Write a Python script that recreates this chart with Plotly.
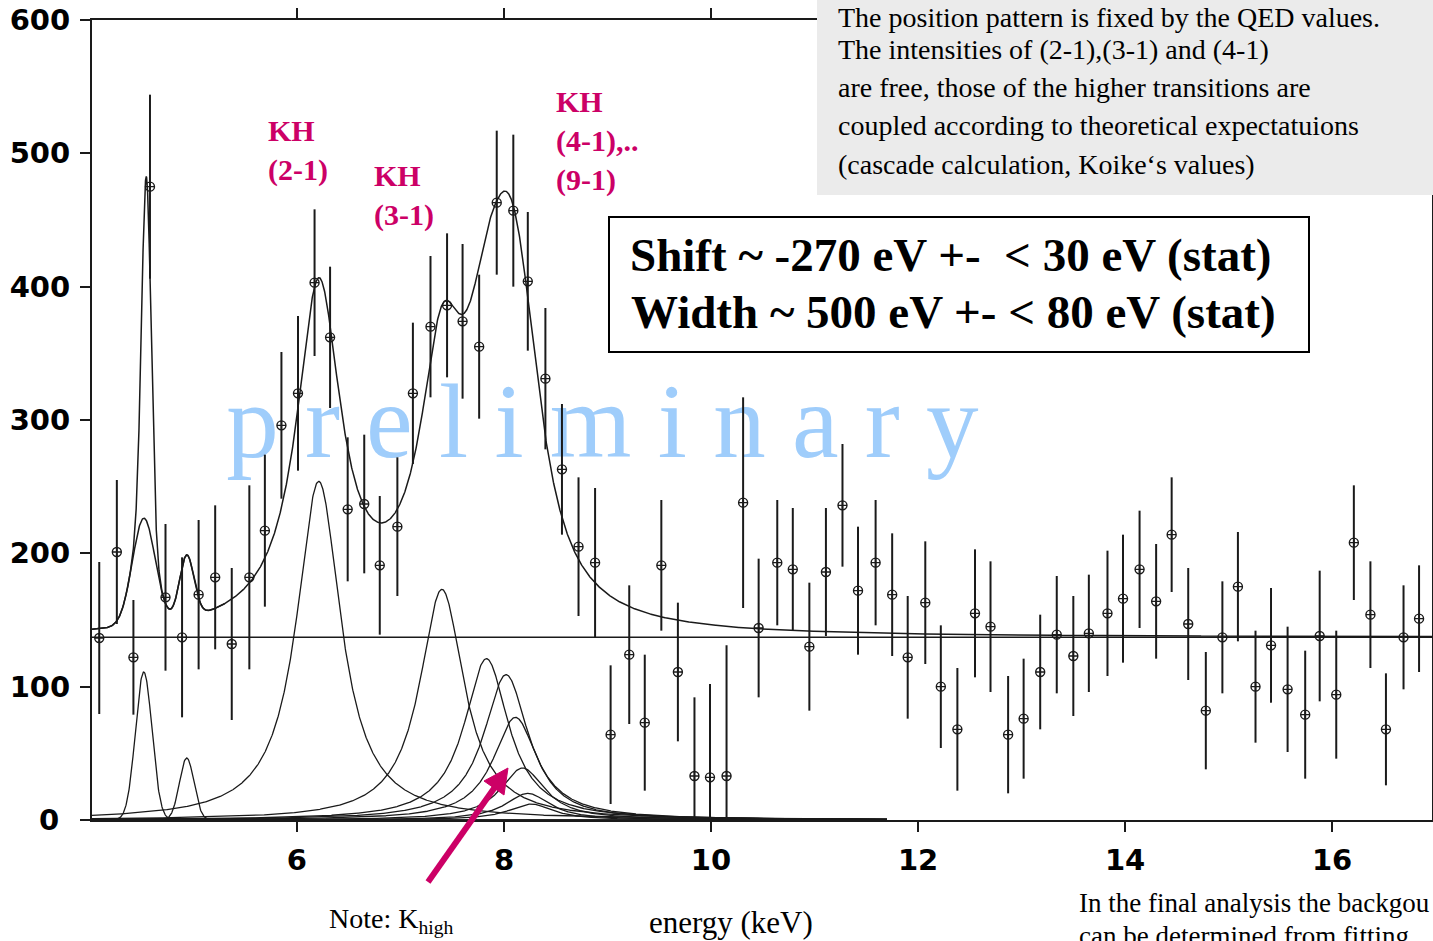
import numpy as np
import plotly.graph_objects as go

# ---------------- data ----------------
energy_kev = [4.09, 4.26, 4.42, 4.58, 4.73, 4.89, 5.05, 5.21, 5.37, 5.54,
              5.69, 5.85, 6.01, 6.17, 6.32, 6.49, 6.65, 6.80, 6.97, 7.12,
              7.29, 7.45, 7.60, 7.76, 7.93, 8.09, 8.23, 8.40, 8.56, 8.72,
              8.88, 9.03, 9.21, 9.36, 9.52, 9.68, 9.84, 9.99, 10.15, 10.31,
              10.46, 10.64, 10.79, 10.95, 11.11, 11.27, 11.42, 11.59, 11.75, 11.90,
              12.07, 12.22, 12.38, 12.55, 12.70, 12.87, 13.02, 13.18, 13.34, 13.50,
              13.65, 13.83, 13.98, 14.14, 14.30, 14.45, 14.61, 14.78, 14.94, 15.09,
              15.26, 15.41, 15.57, 15.74, 15.88, 16.04, 16.21, 16.37, 16.52, 16.69,
              16.84]
counts = [136.5, 201, 122, 475, 167, 137, 169, 182, 132, 182,
          217, 296, 320, 403, 362, 233, 237, 191, 220, 320,
          370, 386, 374, 355, 463, 457, 404, 331, 263, 205,
          193, 64, 124, 73, 191, 111, 33, 32, 33, 238,
          144, 193, 188, 130, 186, 236, 172, 193, 169, 122,
          163, 100, 68, 155, 145, 64, 76, 111, 139, 123,
          140, 155, 166, 188, 164, 214, 147, 82, 137, 175,
          100, 131, 98, 79, 138, 94, 208, 154, 68, 137,
          151]
count_err = [57, 54, 43, 69, 55, 60, 56, 54, 57, 69,
             57, 55, 58, 55, 53, 54, 52, 52, 52, 53,
             53, 54, 58, 54, 54, 57, 52, 53, 49, 52,
             56, 52, 52, 51, 49, 52, 59, 70, 98, 79,
             52, 47, 46, 48, 48, 46, 48, 47, 46, 46,
             46, 46, 46, 48, 49, 44, 45, 43, 44, 45,
             44, 47, 48, 44, 43, 43, 42, 44, 42, 41,
             42, 43, 47, 48, 49, 48, 43, 40, 42, 39,
             40]

# fit model parameters
background = 137.0
kh_lines = ["(2-1)", "(3-1)", "(4-1)", "(5-1)", "(6-1)", "(7-1)", "(8-1)", "(9-1)"]
kh_center = [6.21, 7.40, 7.83, 8.02, 8.11, 8.18, 8.23, 8.26]
kh_height = [254, 173, 121, 109, 77, 39, 20, 12]
kh_hwhm = 0.26
cal_center = [4.52, 4.935]
cal_height = [111, 46.5]
cal_sigma = [0.08, 0.07]
fit_cal_height = [80, 47]
fit_cal_sigma = [0.11, 0.07]
spike_center, spike_height, spike_sigma = 4.545, 258, 0.045

x_ticks = [6, 8, 10, 12, 14, 16]
y_ticks = [0, 100, 200, 300, 400, 500, 600]
y_ticktext = ["0\u2008", "100", "200", "300", "400", "500", "600"]

# ---------------- model curves ----------------
def lorentz(x, c, h, g):
    return h / (1 + ((x - c) / g) ** 2)

def gauss(x, c, h, s):
    return h * np.exp(-0.5 * ((x - c) / s) ** 2)

XMIN, XMAX = 4.02, 16.965
x_comp = np.linspace(XMIN, 11.7, 2000)
x_tot = np.linspace(XMIN, XMAX, 4000)

def total(x):
    y = np.full_like(x, background)
    for c, h in zip(kh_center, kh_height):
        y += lorentz(x, c, h, kh_hwhm)
    for c, h, s in zip(cal_center, fit_cal_height, fit_cal_sigma):
        y += gauss(x, c, h, s)
    return y

INK = "#1a1a1a"
MAG = "#cc0066"
SERIF = "Liberation Serif"

fig = go.Figure()

# watermark (below data)
fig.add_trace(go.Scatter(
    x=[8.95], y=[292], mode="text", text=["p r e l i m i n a r y"],
    textfont=dict(family=SERIF, size=105, color="#9fcdfb"),
    textposition="middle center", hoverinfo="skip", showlegend=False))

# background line
fig.add_trace(go.Scatter(x=[XMIN, XMAX], y=[background, background], mode="lines",
                         line=dict(color=INK, width=1.5), showlegend=False))

# components
for c, h in zip(kh_center, kh_height):
    fig.add_trace(go.Scatter(x=x_comp, y=lorentz(x_comp, c, h, kh_hwhm), mode="lines",
                             line=dict(color=INK, width=1.3), showlegend=False))
for c, h, s in zip(cal_center, cal_height, cal_sigma):
    fig.add_trace(go.Scatter(x=x_comp, y=gauss(x_comp, c, h, s), mode="lines",
                             line=dict(color=INK, width=1.3), showlegend=False))

# total fit
fig.add_trace(go.Scatter(x=x_tot, y=total(x_tot), mode="lines",
                         line=dict(color=INK, width=1.5), showlegend=False))
x_sp = np.linspace(XMIN, 5.3, 1500)
fig.add_trace(go.Scatter(x=x_sp, y=total(x_sp) + gauss(x_sp, spike_center, spike_height, spike_sigma),
                         mode="lines", line=dict(color=INK, width=1.5), showlegend=False))

# data
fig.add_trace(go.Scatter(
    x=energy_kev, y=counts, mode="markers",
    marker=dict(symbol="circle-cross-open", size=9, color=INK, line=dict(width=1.4, color=INK)),
    error_y=dict(type="data", array=count_err, color=INK, thickness=2, width=0),
    showlegend=False))

# ---------------- layout ----------------
W, H = 1433, 941
L, R, T, B = 92, 1, 20, 121
PW, PH = W - L - R, H - T - B

def px(xp):
    return (xp - L) / PW

def py(yp):
    return (H - B - yp) / PH

axis_common = dict(showgrid=False, zeroline=False, showline=True, linecolor=INK, linewidth=2,
                   ticks="outside", ticklen=10, tickwidth=2, tickcolor=INK, mirror="ticks",
                   automargin=False,
                   tickfont=dict(family="DejaVu Sans", size=29, color="black", weight="bold"))

fig.update_layout(
    width=W, height=H, margin=dict(l=L, r=R, t=T, b=B, autoexpand=False),
    paper_bgcolor="white", plot_bgcolor="white",
    xaxis=dict(range=[XMIN, XMAX], tickvals=x_ticks, ticklabelstandoff=3, **axis_common),
    yaxis=dict(range=[0, 600], tickvals=y_ticks, ticktext=y_ticktext, ticklabelstandoff=4,
               **axis_common),
)

shapes = []
# grey note box
shapes.append(dict(type="rect", xref="paper", yref="paper", x0=px(817), x1=px(1440), y0=py(195), y1=py(-10),
                   fillcolor="#ebebeb", line=dict(width=0), layer="above"))
# result box
shapes.append(dict(type="rect", xref="paper", yref="paper", x0=px(609), x1=px(1309), y0=py(352), y1=py(217),
                   fillcolor="white", line=dict(color="black", width=2), layer="above"))
# magenta arrow pointing at the K-high lines
shapes.append(dict(type="line", xref="paper", yref="paper", x0=px(428), y0=py(882), x1=px(495), y1=py(787),
                   line=dict(color=MAG, width=6), layer="above"))
shapes.append(dict(type="path", xref="paper", yref="paper",
                   path="M {:.5f} {:.5f} L {:.5f} {:.5f} L {:.5f} {:.5f} Z".format(
                       px(508), py(768), px(504), py(795), px(484), py(781)),
                   fillcolor=MAG, line=dict(color=MAG, width=1), layer="above"))
fig.update_layout(shapes=shapes)

ann = []
def text(xp, yp, s, size, family=SERIF, color="black", xanchor="left", bold=False):
    ann.append(dict(x=px(xp), y=py(yp), xref="paper", yref="paper", text=s, showarrow=False,
                    xanchor=xanchor, yanchor="middle", align="left",
                    font=dict(family=family, size=size, color=color,
                              weight="bold" if bold else "normal")))

note_lines = ["The position pattern is fixed by the QED values.",
              "The intensities of (2-1),(3-1) and (4-1)",
              "are free, those of the higher transitions are",
              "coupled according to theoretical expectatuions",
              "(cascade calculation, Koike\u2018s values)"]
note_y = [17, 50, 88, 126, 164]
for s, yy in zip(note_lines, note_y):
    text(836, yy, s, 28)

text(628, 255, "Shift ~ -270 eV +-\u00a0 &lt; 30 eV (stat)", 47, bold=True)
text(629, 312, "Width ~ 500 eV +- &lt; 80 eV (stat)", 47, bold=True)

text(266, 151, "KH<br>" + kh_lines[0], 30, color=MAG, bold=True)
text(372, 196, "KH<br>" + kh_lines[1], 30, color=MAG, bold=True)
text(554, 141, "KH<br>" + kh_lines[2] + ",..<br>" + kh_lines[-1], 30, color=MAG, bold=True)

text(327, 920, "Note: K<sub>high</sub>", 28)
text(731, 922, "energy (keV)", 31, xanchor="center")
text(1077, 903, "In the final analysis the backgou", 27)
text(1077, 936, "can be determined from fitting", 27)

fig.update_layout(annotations=ann)

fig.write_html("out.html")
